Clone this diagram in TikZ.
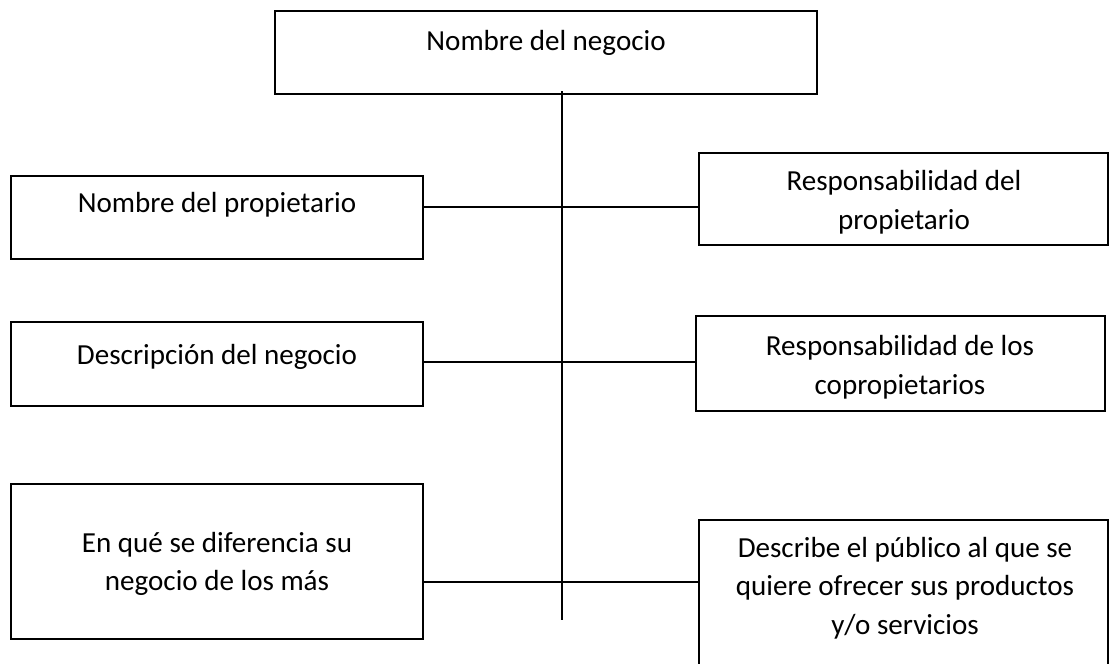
\documentclass[tikz,border=0pt]{standalone}
\usepackage{fontspec}
\setmainfont{Carlito}
\usetikzlibrary{fit}
\tikzset{
  box/.style={draw=black, line width=1.5pt, inner sep=0pt},
  lbl/.style={align=center, inner sep=0pt, font=\fontsize{21.8}{29}\selectfont},
  conn/.style={draw=black, line width=1.2pt}
}
\begin{document}
\begin{tikzpicture}[x=0.75pt,y=-0.75pt]
\useasboundingbox (0,0) rectangle (1111,664);
% corner coordinates
\coordinate (a1) at (275,11);  \coordinate (a2) at (817,94);
\coordinate (b1) at (11,176);  \coordinate (b2) at (423,259);
\coordinate (c1) at (11,322);  \coordinate (c2) at (423,406);
\coordinate (d1) at (11,484);  \coordinate (d2) at (423,639);
\coordinate (e1) at (699,153); \coordinate (e2) at (1108,245);
\coordinate (f1) at (696,316); \coordinate (f2) at (1105,411);
\coordinate (g1) at (699,520); \coordinate (g2) at (1108,700);
% boxes
\node[box, fit=(a1)(a2)] (top) {};
\node[box, fit=(b1)(b2)] (lb1) {};
\node[box, fit=(c1)(c2)] (lb2) {};
\node[box, fit=(d1)(d2)] (lb3) {};
\node[box, fit=(e1)(e2)] (rb1) {};
\node[box, fit=(f1)(f2)] (rb2) {};
\node[box, fit=(g1)(g2)] (rb3) {};
% texts
\node[lbl] (ttop) at (546,43) {Nombre del negocio};
\node[lbl] (tl1) at (217,205) {Nombre del propietario};
\node[lbl] (tl2) at (217,357) {Descripción del negocio};
\node[lbl] (tl3) at (217,564) {En qué se diferencia su\\negocio de los más};
\node[lbl] (tr1) at (904,202) {Responsabilidad del\\propietario};
\node[lbl] (tr2) at (900,367) {Responsabilidad de los\\copropietarios};
\node[lbl] (tr3) at (905,588) {Describe el público al que se\\quiere ofrecer sus productos\\y/o servicios};
% connectors
\coordinate (vtop) at (562,91);
\coordinate (vbot) at (562,620);
\coordinate (h1) at (562,207);
\coordinate (h2) at (562,362);
\coordinate (h3) at (562,582);
\draw[conn] (vtop) -- (vbot);
\draw[conn] (lb1.east |- h1) -- (rb1.west |- h1);
\draw[conn] (lb2.east |- h2) -- (rb2.west |- h2);
\draw[conn] (lb3.east |- h3) -- (rb3.west |- h3);
\end{tikzpicture}
\end{document}
